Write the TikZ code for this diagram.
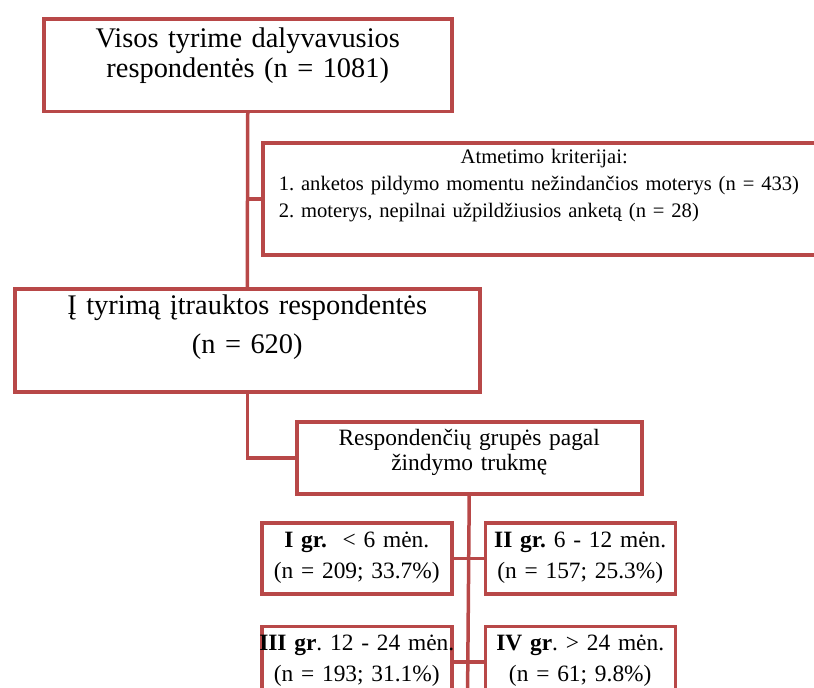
\documentclass[tikz,border=0pt]{standalone}
\usepackage{fontspec}
\setmainfont{Liberation Serif}
\usetikzlibrary{positioning}
\frenchspacing
\definecolor{figRaudona}{RGB}{184,72,72}
\tikzset{
  deze/.style={
    rectangle, draw=figRaudona, line width=3.5pt, fill=white,
    inner sep=0pt, align=center
  },
  dezem/.style={
    deze, text width=204pt, inner xsep=-7pt, text height=24.5pt, text depth=46.5pt,
    font={\fontsize{23.4pt}{31pt}\selectfont}
  },
  linija/.style={draw=figRaudona, line width=3.5pt}
}

\begin{document}
\begin{tikzpicture}[x=1pt, y=-1pt]
  \useasboundingbox (0,0) rectangle (814,688);
  \clip (0,0) rectangle (814,688);

  \node[deze, anchor=north west, text width=408pt, text height=29pt, text depth=63.5pt,
    font={\fontsize{28.4pt}{30pt}\selectfont}] (visos) at (42,17)
    {Visos tyrime dalyvavusios\\respondentės (n = 1081)};
  \node[deze, anchor=north west, text width=531pt, inner xsep=16pt, align=left,
    text height=21pt, text depth=91pt,
    font={\fontsize{20.6pt}{27pt}\selectfont}] (atmet) at (261,141)
    {\hspace*{\fill}Atmetimo kriterijai:\hspace*{\fill}\null\\
     1. anketos pildymo momentu nežindančios moterys (n = 433)\\
     2. moterys, nepilnai užpildžiusios anketą (n = 28)};
  \node[deze, anchor=north west, text width=465pt, text height=26pt, text depth=77pt,
    font={\fontsize{28.4pt}{39pt}\selectfont}] (itr) at (13,287)
    {Į tyrimą įtrauktos respondentės\\(n = 620)};
  \node[deze, anchor=north west, text width=345pt, text height=24pt, text depth=48pt,
    font={\fontsize{23.4pt}{25pt}\selectfont}] (grup) at (295,420)
    {Respondenčių grupės pagal\\žindymo trukmę};

  \node[dezem, anchor=north west] (gr1) at (260,521)
    {\textbf{I gr.}\ \ < 6 mėn.\\(n = 209; 33.7\%)};
  \node[dezem, right=30pt of gr1] (gr2)
    {\textbf{II gr.} 6 - 12 mėn.\\(n = 157; 25.3\%)};
  \node[dezem, below=29pt of gr1] (gr3)
    {\textbf{III gr}. 12 - 24 mėn.\\(n = 193; 31.1\%)};
  \node[dezem, right=30pt of gr3] (gr4)
    {\textbf{IV gr}. > 24 mėn.\\(n = 61; 9.8\%)};

  \coordinate (apacia) at (467.5,700);

  \draw[linija] (visos.south) -- (itr.north);
  \draw[linija] (visos.south |- atmet.west) -- (atmet.west);
  \draw[linija] (itr.south) -- (itr.south |- grup.west) -- (grup.west);
  \draw[linija] (grup.south) -- (apacia);
  \draw[linija] (gr1.east) -- (gr2.west);
  \draw[linija] (gr3.east) -- (gr4.west);
\end{tikzpicture}
\end{document}
